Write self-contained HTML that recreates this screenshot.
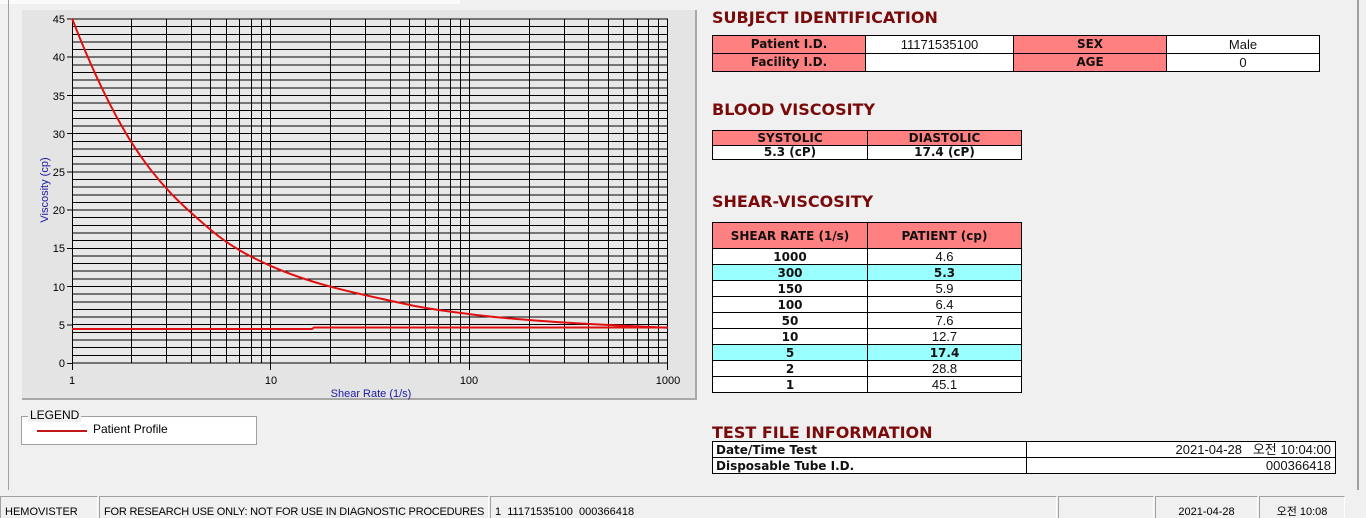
<!DOCTYPE html>
<html><head><meta charset="utf-8"><style>
html{overflow:hidden}
body{margin:0;width:1366px;height:518px;background:#f0f0f0;position:relative;overflow:hidden;font-family:"Liberation Sans","Noto Sans CJK KR",sans-serif}
.a{position:absolute}
.h{position:absolute;left:712px;font:bold 16px "DejaVu Sans",sans-serif;color:#7a0a0a}
table{position:absolute;border-collapse:collapse;font:bold 12px "DejaVu Sans",sans-serif;color:#111;table-layout:fixed}
td{border:1px solid #000;padding:0;text-align:center;height:17px;line-height:15px;overflow:hidden;white-space:nowrap}
.s td{height:15px;line-height:14px}
.p{background:#ff8080}
.w{background:#fff}
.n{font-weight:normal;font-family:"Liberation Sans",sans-serif;font-size:13px}
.c{background:#99ffff}
.sb{position:absolute;top:496px;height:22px;border-top:1px solid #a0a0a0;border-left:1px solid #a0a0a0;border-right:1px solid #fff;font-size:11px;line-height:30px;padding-left:4px;box-sizing:border-box;white-space:nowrap;overflow:hidden;color:#000}
</style></head><body>
<div class="a" style="left:0;top:0;width:460px;height:4px;background:#fafafa"></div>
<div class="a" style="left:8px;top:0;width:1px;height:490px;background:#a0a0a0"></div>
<div class="a" style="left:1357px;top:0;width:2px;height:490px;background:#a0a0a0"></div>
<div class="a" style="left:22px;top:10px;width:675px;height:390px;background:#e4e4e4;border-right:2px solid #a8a8a8;border-bottom:2px solid #a8a8a8;box-sizing:border-box"></div>
<svg class="a" style="left:0;top:0" width="700" height="405">
<rect x="72" y="19" width="596" height="344" fill="#e8e8e8"/>
<path stroke="#000" stroke-width="1" fill="none" d="
M72 363H668M72 355.5H668M72 347.5H668M72 340H668M72 332.5H668M72 324.5H668M72 317H668M72 309.5H668M72 302H668M72 294H668M72 286.5H668M72 279H668M72 271H668M72 263.5H668M72 256H668M72 248.5H668M72 240.5H668M72 233H668M72 225.5H668M72 217.5H668M72 210H668M72 202.5H668M72 195H668M72 187H668M72 179.5H668M72 172H668M72 164H668M72 156.5H668M72 149H668M72 141.5H668M72 133.5H668M72 126H668M72 118.5H668M72 110.5H668M72 103H668M72 95.5H668M72 88H668M72 80H668M72 72.5H668M72 65H668M72 57H668M72 49.5H668M72 42H668M72 34.5H668M72 26.5H668M72 19H668
M72.5 19V363M131.5 19V363M166.5 19V363M191.5 19V363M210.5 19V363M226.5 19V363M239.5 19V363M251.5 19V363M261.5 19V363M270.5 19V363
M330.5 19V363M365.5 19V363M390.5 19V363M409.5 19V363M425.5 19V363M438.5 19V363M450.5 19V363M460.5 19V363M469.5 19V363
M529.5 19V363M564.5 19V363M588.5 19V363M608.5 19V363M623.5 19V363M637.5 19V363M648.5 19V363M658.5 19V363M667.5 19V363"/>
<path stroke="#000" d="M67 363.5H72M67 325H72M67 286.5H72M67 248.5H72M67 210H72M67 172H72M67 133.5H72M67 95.5H72M67 57H72M67 19H72M72.5 363V370M270.5 363V370M469.5 363V370M667.5 363V370"/>
<g font-size="11" fill="#000" text-anchor="end" font-family="Liberation Sans,sans-serif">
<text x="65" y="367">0</text><text x="65" y="329">5</text><text x="65" y="291">10</text><text x="65" y="252">15</text><text x="65" y="214">20</text><text x="65" y="176">25</text><text x="65" y="138">30</text><text x="65" y="100">35</text><text x="65" y="61">40</text><text x="65" y="23">45</text></g>
<g font-size="11" fill="#000" text-anchor="middle" font-family="Liberation Sans,sans-serif">
<text x="72" y="384">1</text><text x="271" y="384">10</text><text x="469" y="384">100</text><text x="668" y="384">1000</text></g>
<text x="371" y="397" font-size="11" fill="#1a1aa0" text-anchor="middle">Shear Rate (1/s)</text>
<text transform="translate(48,190) rotate(-90)" font-size="11" fill="#1a1aa0" text-anchor="middle">Viscosity (cp)</text>
<path fill="none" stroke="#e01010" stroke-width="2" d="M72 18.3C92 70.1 111.9 111.2 131.8 142.9C158.2 184.8 184.5 207.6 210.9 230C230.8 246.9 250.8 257.1 270.7 265.9C317 286.3 363.3 294.7 409.6 304.9C429.5 309.3 449.4 311.5 469.3 314.1C481 315.6 492.6 316.8 504.3 317.9C524.2 319.8 544.2 321.2 564.1 322.5C598.7 324.7 633.4 326.2 668 327.8"/>
<polyline fill="none" stroke="#e01010" stroke-width="2" points="72,329 312,329 314,327.5 668,327.5"/>
</svg>
<div class="a" style="left:21px;top:416px;width:236px;height:29px;background:#fff;border:1px solid #a0a0a0;box-sizing:border-box"></div>
<div class="a" style="left:28px;top:408px;background:#f0f0f0;font-size:12px;padding:0 2px">LEGEND</div>
<div class="a" style="left:37px;top:430px;width:50px;height:2px;background:#c01818"></div>
<div class="a" style="left:93px;top:422px;font-size:12px">Patient Profile</div>

<div class="h" style="top:8px">SUBJECT IDENTIFICATION</div>
<table style="left:712px;top:35px;width:608px">
<tr><td class="p" style="width:152px">Patient I.D.</td><td class="w n">11171535100</td><td class="p" style="width:152px">SEX</td><td class="w n" style="width:152px">Male</td></tr>
<tr><td class="p">Facility I.D.</td><td class="w n"></td><td class="p">AGE</td><td class="w n">0</td></tr></table>

<div class="h" style="top:100px">BLOOD VISCOSITY</div>
<table style="left:712px;top:130px;width:310px">
<tr><td class="p" style="width:154px;height:14px;line-height:13px">SYSTOLIC</td><td class="p" style="height:14px;line-height:13px">DIASTOLIC</td></tr>
<tr><td class="w" style="height:13px;line-height:13px">5.3 (cP)</td><td class="w" style="height:13px;line-height:13px">17.4 (cP)</td></tr></table>

<div class="h" style="top:192px">SHEAR-VISCOSITY</div>
<table class="s" style="left:712px;top:222px;width:310px">
<tr><td class="p" style="width:154px;height:25px">SHEAR RATE (1/s)</td><td class="p" style="height:25px">PATIENT (cp)</td></tr>
<tr><td class="w">1000</td><td class="w n">4.6</td></tr>
<tr><td class="c">300</td><td class="c">5.3</td></tr>
<tr><td class="w">150</td><td class="w n">5.9</td></tr>
<tr><td class="w">100</td><td class="w n">6.4</td></tr>
<tr><td class="w">50</td><td class="w n">7.6</td></tr>
<tr><td class="w">10</td><td class="w n">12.7</td></tr>
<tr><td class="c">5</td><td class="c">17.4</td></tr>
<tr><td class="w">2</td><td class="w n">28.8</td></tr>
<tr><td class="w">1</td><td class="w n">45.1</td></tr></table>

<div class="h" style="top:423px">TEST FILE INFORMATION</div>
<table class="s" style="left:712px;top:441px;width:624px">
<tr><td class="w" style="width:310px;text-align:left;padding-left:3px">Date/Time Test</td><td class="w n" style="text-align:right;padding-right:4px">2021-04-28 &nbsp; 오전 10:04:00</td></tr>
<tr><td class="w" style="text-align:left;padding-left:3px">Disposable Tube I.D.</td><td class="w n" style="text-align:right;padding-right:4px">000366418</td></tr></table>

<div class="sb" style="left:0;width:98px">HEMOVISTER</div>
<div class="sb" style="left:99px;width:390px;letter-spacing:-0.2px">FOR RESEARCH USE ONLY: NOT FOR USE IN DIAGNOSTIC PROCEDURES</div>
<div class="sb" style="left:490px;width:567px">1&nbsp; 11171535100&nbsp; 000366418</div>
<div class="sb" style="left:1058px;width:96px"></div>
<div class="sb" style="left:1155px;width:103px;text-align:center;padding:0">2021-04-28</div>
<div class="sb" style="left:1259px;width:86px;text-align:center;padding:0">오전 10:08</div>
</body></html>
